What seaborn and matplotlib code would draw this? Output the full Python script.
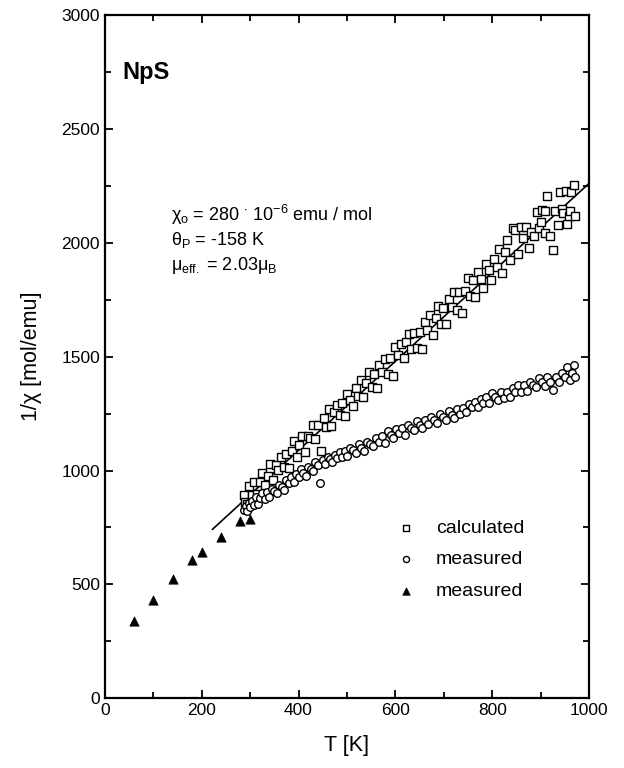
import matplotlib
matplotlib.use("Agg")
import matplotlib.pyplot as plt
import seaborn as sns
import pandas as pd
from matplotlib.ticker import MultipleLocator

sns.set_style("ticks")
plt.rcParams['font.family'] = ['Liberation Sans', 'DejaVu Sans']
plt.rcParams['mathtext.fontset'] = 'custom'
plt.rcParams['mathtext.rm'] = 'Liberation Sans'
plt.rcParams['mathtext.it'] = 'Liberation Sans'
plt.rcParams['mathtext.bf'] = 'Liberation Sans:bold'
for k in ['text.color', 'axes.labelcolor', 'xtick.color', 'ytick.color', 'axes.edgecolor']:
    plt.rcParams[k] = 'black'

# ---- data ----
calc_T = [288, 290, 292, 293, 298, 303, 309, 314, 320, 325, 331, 336, 342, 347, 353, 358, 364, 369,
          375, 380, 386, 391, 397, 402, 408, 413, 419, 424, 430, 435, 441, 446, 452, 457, 463, 468,
          474, 479, 485, 490, 496, 501, 507, 512, 518, 523, 529, 534, 540, 545, 551, 556, 562, 567,
          573, 578, 584, 589, 595, 600, 606, 611, 617, 622, 628, 633, 639, 644, 650, 655, 661, 666,
          672, 677, 683, 688, 694, 699, 705, 710, 716, 721, 727, 732, 738, 743, 749, 754, 760, 765,
          771, 776, 782, 787, 793, 798, 804, 809, 815, 820, 826, 831, 837, 842, 848, 853, 859, 864,
          870, 875, 881, 886, 892, 897, 900, 903, 908, 910, 914, 919, 925, 930, 936, 941, 945, 947,
          952, 955, 958, 960, 963, 968, 970]
calc_y = [892, 860, 830, 852, 931, 891, 948, 898, 949, 989, 936, 976, 1027, 957, 1024, 1004, 1061, 1015,
          1072, 1012, 1084, 1128, 1060, 1110, 1152, 1081, 1153, 1143, 1200, 1139, 1201, 1086, 1233, 1192, 1269, 1194,
          1256, 1290, 1242, 1297, 1239, 1338, 1310, 1285, 1362, 1326, 1398, 1323, 1385, 1434, 1366, 1426, 1363, 1462,
          1434, 1489, 1426, 1495, 1417, 1542, 1509, 1558, 1495, 1565, 1602, 1536, 1603, 1538, 1610, 1534, 1651, 1616,
          1683, 1597, 1669, 1724, 1646, 1715, 1642, 1752, 1719, 1783, 1705, 1785, 1692, 1791, 1848, 1768, 1835, 1764,
          1871, 1841, 1803, 1907, 1879, 1839, 1931, 1895, 1972, 1867, 1959, 2013, 1925, 2065, 2057, 1951, 2068, 2023,
          2070, 1979, 2046, 2031, 2138, 2067, 2090, 2144, 2044, 2140, 2206, 2030, 1967, 2142, 2079, 2223, 2150, 2130,
          2230, 2085, 2117, 2140, 2226, 2256, 2120]

meas_T = [288, 291, 294, 297, 300, 304, 308, 312, 316, 320, 325, 330, 335, 340, 345, 350, 355, 360,
          365, 370, 375, 380, 385, 390, 395, 400, 405, 410, 415, 420, 425, 430, 435, 440, 445, 450,
          455, 460, 465, 470, 475, 480, 485, 490, 495, 500, 506, 512, 518, 524, 530, 536, 542, 548,
          554, 560, 566, 572, 578, 584, 590, 596, 602, 608, 614, 620, 626, 632, 638, 644, 650, 656,
          662, 668, 674, 680, 686, 692, 698, 704, 710, 716, 722, 728, 734, 740, 746, 752, 758, 764,
          770, 776, 782, 788, 794, 800, 806, 812, 818, 824, 830, 836, 842, 848, 854, 860, 866, 872,
          878, 884, 890, 896, 902, 908, 914, 920, 926, 932, 938, 944, 950, 955, 960, 965, 968, 972]
meas_y = [825, 845, 824, 858, 838, 868, 850, 885, 855, 880, 901, 874, 904, 883, 920, 910, 900, 937,
          927, 915, 957, 945, 970, 948, 983, 970, 1005, 990, 975, 1015, 1006, 998, 1036, 1023, 947, 1045,
          1027, 1060, 1049, 1036, 1070, 1055, 1082, 1060, 1085, 1065, 1099, 1089, 1076, 1118, 1100, 1087, 1125, 1118,
          1109, 1145, 1126, 1152, 1123, 1173, 1157, 1142, 1183, 1166, 1185, 1157, 1200, 1187, 1177, 1218, 1202, 1187,
          1224, 1206, 1235, 1220, 1208, 1248, 1234, 1221, 1262, 1245, 1231, 1271, 1250, 1275, 1256, 1294, 1278, 1302,
          1278, 1316, 1297, 1321, 1296, 1340, 1323, 1311, 1344, 1320, 1347, 1325, 1363, 1346, 1375, 1345, 1375, 1349,
          1389, 1378, 1368, 1407, 1388, 1372, 1409, 1390, 1352, 1409, 1390, 1427, 1410, 1454, 1398, 1428, 1462, 1410]

low_T = [60, 100, 140, 180, 200, 240, 280, 300]
low_y = [340, 430, 525, 605, 640, 710, 780, 785]

fit_T = [222, 1000]
fit_y = [741, 2262]

df_calc = pd.DataFrame({"T": calc_T, "y": calc_y})
df_meas = pd.DataFrame({"T": meas_T, "y": meas_y})
df_low = pd.DataFrame({"T": low_T, "y": low_y})
df_fit = pd.DataFrame({"T": fit_T, "y": fit_y})

fig = plt.figure(figsize=(6.24, 7.68), dpi=100)
ax = fig.add_axes([0.168, 0.091, 0.776, 0.889])

sns.lineplot(data=df_fit, x="T", y="y", ax=ax, color="black", linewidth=1.2, zorder=2)
sns.scatterplot(data=df_calc, x="T", y="y", ax=ax, marker="s", s=26, facecolor="white",
                edgecolor="black", linewidth=1.0, label="calculated", zorder=3)
sns.scatterplot(data=df_meas, x="T", y="y", ax=ax, marker="o", s=30, facecolor="white",
                edgecolor="black", linewidth=1.0, label="measured", zorder=3)
sns.scatterplot(data=df_low, x="T", y="y", ax=ax, marker="^", s=45, color="black",
                edgecolor="black", linewidth=0.5, label="measured", zorder=4)

ax.set_xlim(0, 1000)
ax.set_ylim(0, 3000)
ax.xaxis.set_major_locator(MultipleLocator(200))
ax.xaxis.set_minor_locator(MultipleLocator(100))
ax.yaxis.set_major_locator(MultipleLocator(500))
ax.yaxis.set_minor_locator(MultipleLocator(250))
ax.tick_params(which="both", direction="in", top=True, right=True, width=1.3, labelsize=12.5,
               colors="black")
ax.tick_params(which="major", length=6)
ax.tick_params(which="minor", length=4)
for sp in ax.spines.values():
    sp.set_linewidth(1.6)
    sp.set_color("black")

ax.set_xlabel("T [K]", fontsize=15.5, labelpad=12)
ax.set_ylabel("1/χ [mol/emu]", fontsize=15.5, labelpad=14)

ax.text(85, 2750, "NpS", fontsize=17, fontweight="bold", ha="center", va="center")
ax.text(137, 2121, r"$\chi_\mathrm{o}$ = 280 $^{\cdot}$ 10$^{-6}$ emu / mol", fontsize=13, va="center")
ax.text(137, 2011, r"$\theta_\mathrm{P}$ = -158 K", fontsize=13, va="center")
ax.text(137, 1902, r"$\mu_\mathrm{eff.}$ = 2.03$\mu_\mathrm{B}$", fontsize=13, va="center")

leg = ax.legend(loc="upper left", bbox_to_anchor=(0.545, 0.287), frameon=False, fontsize=14,
                handletextpad=0.55, labelspacing=0.7, markerscale=0.8)
for t in leg.get_texts():
    t.set_color("black")

fig.savefig("out.png", dpi=100)
